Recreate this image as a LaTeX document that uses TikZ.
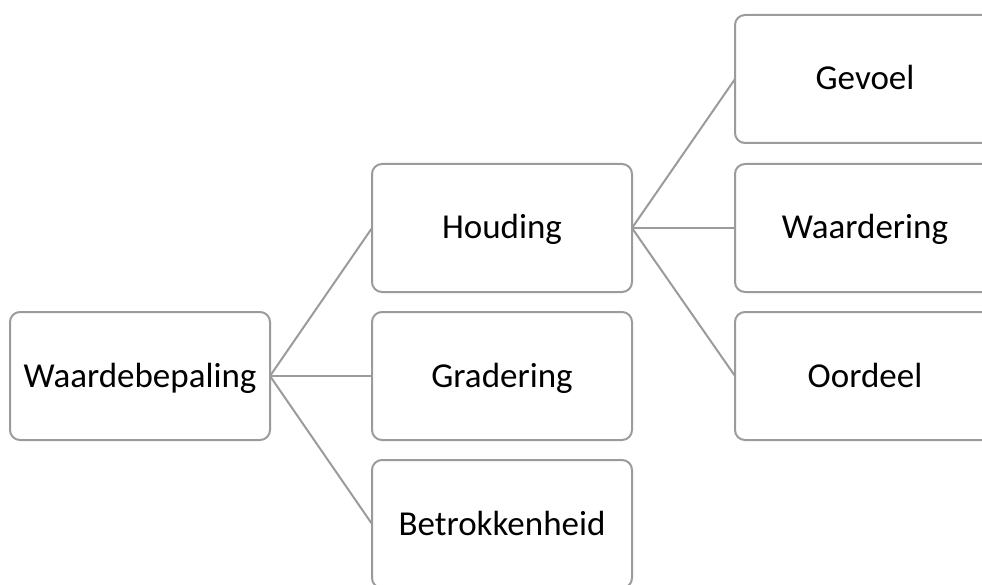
\documentclass[tikz,border=0pt]{standalone}
\usepackage{fontspec}
\setmainfont{Carlito}
\definecolor{edgegray}{RGB}{155,155,155}
\begin{document}
\begin{tikzpicture}[x=1pt,y=-1pt,
  box/.style={draw=edgegray, line width=2pt, rounded corners=10pt, fill=white,
    minimum width=260pt, minimum height=128pt, inner sep=0pt, outer sep=0pt,
    text height=22pt, text depth=0pt,
    font=\fontsize{35}{42}\selectfont},
  link/.style={draw=edgegray, line width=2pt}]
\useasboundingbox (0,0) rectangle (982,585);
\clip (0,0) rectangle (982,585);
\node[box] (wb) at (140,376) {Waardebepaling};
\node[box] (ho) at (502,228) {Houding};
\node[box] (gr) at (502,376) {Gradering};
\node[box] (be) at (502,524) {Betrokkenheid};
\node[box] (ge) at (865,79) {Gevoel};
\node[box] (wa) at (865,228) {Waardering};
\node[box] (oo) at (865,376) {Oordeel};
\draw[link] (wb.east) -- (ho.west);
\draw[link] (wb.east) -- (gr.west);
\draw[link] (wb.east) -- (be.west);
\draw[link] (ho.east) -- (ge.west);
\draw[link] (ho.east) -- (wa.west);
\draw[link] (ho.east) -- (oo.west);
\end{tikzpicture}
\end{document}
